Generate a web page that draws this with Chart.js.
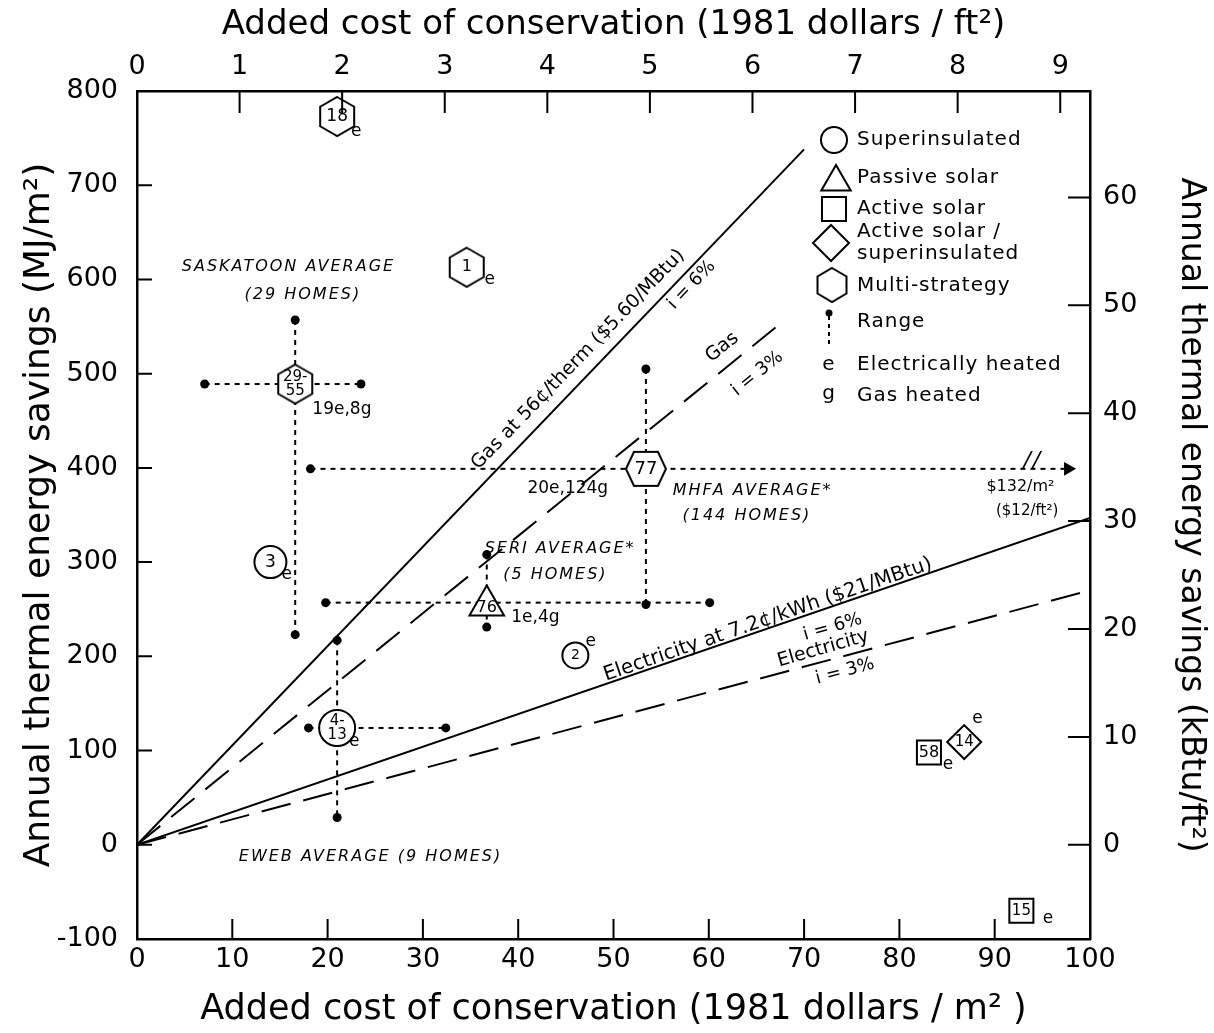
<!DOCTYPE html>
<html>
<head>
<meta charset="utf-8">
<script src="https://cdn.jsdelivr.net/npm/chart.js@4.4.0/dist/chart.umd.min.js"></script>
<style>
  body { margin: 0; background: #fff; }
  #wrap { width: 1214px; height: 1033px; }
</style>
</head>
<body>
<div id="wrap"><canvas id="myChart"></canvas></div>
<script>
const FT2_PER_M2 = 10.764;          // $/m2 -> $/ft2
const MJ_PER_KBTU = 11.45;          // kBtu/ft2 -> MJ/m2 (as drawn)

const bottomTicks = [0, 10, 20, 30, 40, 50, 60, 70, 80, 90, 100];
const leftTicks = [-100, 0, 100, 200, 300, 400, 500, 600, 700, 800];
const topTicks = [0, 1, 2, 3, 4, 5, 6, 7, 8, 9];
const rightTicks = [0, 10, 20, 30, 40, 50, 60];

// homes, by strategy ($/m2, MJ/m2)
const superIds = ['3', '4-\n13', '2'];
const superX = [14.0, 21.0, 46.0];
const superY = [300, 124, 201];

const passiveIds = ['76'];
const passiveX = [36.7];
const passiveY = [254];

const activeIds = ['58', '15'];
const activeX = [83.1, 92.8];
const activeY = [98, -70];

const activeSuperIds = ['14'];
const activeSuperX = [86.8];
const activeSuperY = [109];

const multiIds = ['18', '1', '29-\n55', '77'];
const multiX = [21.0, 34.6, 16.6, 53.4];
const multiY = [773, 613, 489, 399];

// break-even lines, end points from the origin
const gas6End = [70, 738];
const gas3End = [67, 549];
const elec6End = [100, 347];
const elec3End = [100, 270];

// ranges: [x1, y1, x2, y2]
const ranges = [
  [7.1, 489, 23.5, 489],
  [16.6, 557, 16.6, 223],
  [53.4, 505, 53.4, 255],
  [36.7, 308, 36.7, 231],
  [19.8, 257, 60.1, 257],
  [21.0, 217, 21.0, 29],
  [18.0, 124, 32.4, 124]
];
const mhfaRange = [18.2, 399, 97.7, 399];   // runs off to $132/m2

const pts = (xs, ys) => xs.map((x, i) => ({ x: x, y: ys[i] }));
const seg = (a, b) => [{ x: a[0], y: a[1] }, { x: b[0], y: b[1] }];

function makeHex(w, h, pointy) {
  const c = document.createElement('canvas');
  c.width = w + 4; c.height = h + 4;
  const g = c.getContext('2d');
  const cx = c.width / 2, cy = c.height / 2;
  const v = pointy
    ? [[0, -h / 2], [w / 2, -h / 4], [w / 2, h / 4], [0, h / 2], [-w / 2, h / 4], [-w / 2, -h / 4]]
    : [[-w / 2, 0], [-w * 0.3, -h / 2], [w * 0.3, -h / 2], [w / 2, 0], [w * 0.3, h / 2], [-w * 0.3, h / 2]];
  g.beginPath();
  v.forEach(p => g.lineTo(cx + p[0], cy + p[1]));
  g.closePath();
  g.fillStyle = '#fff'; g.fill();
  g.strokeStyle = '#000'; g.lineWidth = 2; g.stroke();
  return c;
}
const hexA = makeHex(34, 39, true);
const hexB = makeHex(40, 34, false);
const hexLegend = makeHex(29, 34, true);

const FONT = '"DejaVu Sans", sans-serif';

const marker = (label, data, style, radius, ids, labelSize) => ({
  label: label, data: data, ids: ids, labelSize: labelSize,
  pointStyle: style, pointRadius: radius, pointHoverRadius: radius,
  pointBackgroundColor: '#fff', pointBorderColor: '#000', pointBorderWidth: 2,
  showLine: false
});

const lineSet = (data, dash) => ({
  type: 'line', data: data, borderColor: '#000', borderWidth: 2,
  borderDash: dash, pointRadius: 0, fill: false, tension: 0
});

const rangeSet = (r) => ({
  type: 'line', data: seg([r[0], r[1]], [r[2], r[3]]),
  borderColor: '#000', borderWidth: 2, borderDash: [5, 5],
  pointRadius: 4.5, pointBackgroundColor: '#000', pointBorderWidth: 0, fill: false
});

const datasets = [
  marker('Superinsulated', pts(superX, superY), 'circle', [16, 18, 13], superIds, [17, 15, 14]),
  marker('Passive solar', pts(passiveX, passiveY), 'triangle', 20, passiveIds, [16]),
  marker('Active solar', pts(activeX, activeY), 'rect', 17, activeIds, [16, 15]),
  marker('Active solar / superinsulated', pts(activeSuperX, activeSuperY), 'rectRot', 17, activeSuperIds, [15]),
  marker('Multi-strategy', pts(multiX, multiY), [hexA, hexA, hexA, hexB], 18, multiIds, [17, 16, 15, 18]),
  lineSet(seg([0, 0], gas6End), []),
  lineSet(seg([0, 0], gas3End), [30, 14]),
  lineSet(seg([0, 0], elec6End), []),
  lineSet(seg([0, 0], elec3End), [30, 13]),
  ...ranges.map(rangeSet),
  Object.assign(rangeSet(mhfaRange), {
    pointStyle: ['circle', 'triangle'], pointRotation: [0, 90], pointRadius: [4.5, 8]
  })
];

// free text placed in data units
const notes = [
  { t: 'SASKATOON AVERAGE', x: 15.9, y: 613, it: true },
  { t: '(29 HOMES)', x: 17.4, y: 584, it: true },
  { t: 'MHFA AVERAGE*', x: 64.6, y: 376, it: true },
  { t: '(144 HOMES)', x: 64.0, y: 349, it: true },
  { t: 'SERI AVERAGE*', x: 44.4, y: 314, it: true },
  { t: '(5 HOMES)', x: 43.9, y: 287, it: true },
  { t: 'EWEB AVERAGE (9 HOMES)', x: 24.5, y: -13, it: true },
  { t: '19e,8g', x: 21.5, y: 462, s: 17 },
  { t: '20e,124g', x: 45.2, y: 378, s: 17 },
  { t: '1e,4g', x: 41.8, y: 241, s: 17 },
  { t: '$132/m²', x: 92.7, y: 380 },
  { t: '($12/ft²)', x: 93.4, y: 354, s: 15 },
  { t: '//', x: 94.0, y: 407, s: 22, it: true },
  { t: 'e', x: 23.0, y: 757, s: 17 },
  { t: 'e', x: 37.0, y: 600, s: 17 },
  { t: 'e', x: 15.7, y: 287, s: 17 },
  { t: 'e', x: 22.8, y: 110, s: 17 },
  { t: 'e', x: 47.6, y: 216, s: 17 },
  { t: 'e', x: 85.1, y: 85, s: 17 },
  { t: 'e', x: 88.2, y: 134, s: 17 },
  { t: 'e', x: 95.6, y: -78, s: 17 },
  { t: 'Gas at 56¢/therm ($5.60/MBtu)', x: 46.3, y: 515, r: -46, s: 19 },
  { t: 'i = 6%', x: 58.2, y: 594, r: -46, s: 18 },
  { t: 'Gas', x: 61.4, y: 528, r: -39, s: 19 },
  { t: 'i = 3%', x: 65.1, y: 500, r: -39, s: 18 },
  { t: 'Electricity at 7.2¢/kWh ($21/MBtu)', x: 66.2, y: 239, r: -19, s: 20 },
  { t: 'i = 6%', x: 73.0, y: 231, r: -16, s: 18 },
  { t: 'Electricity', x: 72.0, y: 208, r: -16, s: 19 },
  { t: 'i = 3%', x: 74.3, y: 184, r: -15, s: 18 }
];

const notePlugin = {
  id: 'notes',
  afterDatasetsDraw(chart) {
    const ctx = chart.ctx, sx = chart.scales.x, sy = chart.scales.y;
    ctx.save();
    ctx.fillStyle = '#000';
    ctx.textAlign = 'center';
    ctx.textBaseline = 'middle';
    notes.forEach(n => {
      const size = n.s || 16;
      ctx.font = (n.it ? 'italic ' : '') + size + 'px ' + FONT;
      ctx.letterSpacing = n.it ? '2px' : '0px';
      ctx.save();
      ctx.translate(sx.getPixelForValue(n.x), sy.getPixelForValue(n.y));
      if (n.r) ctx.rotate(n.r * Math.PI / 180);
      ctx.fillText(n.t, 0, 0);
      ctx.restore();
    });
    // ids inside the markers
    ctx.letterSpacing = '0px';
    chart.data.datasets.forEach((ds, i) => {
      if (!ds.ids) return;
      chart.getDatasetMeta(i).data.forEach((el, j) => {
        const lines = ds.ids[j].split('\n');
        ctx.font = ds.labelSize[j] + 'px ' + FONT;
        const dy = ds.pointStyle === 'triangle' ? 2 : 0;
        const lh = ds.labelSize[j] * 0.95;
        lines.forEach((l, k) => {
          ctx.fillText(l, el.x, el.y + dy + (k - (lines.length - 1) / 2) * lh);
        });
      });
    });
    ctx.restore();
  }
};

const tickPlugin = {
  id: 'innerTicks',
  afterDraw(chart) {
    const ctx = chart.ctx, a = chart.chartArea, s = chart.scales;
    ctx.save();
    ctx.strokeStyle = '#000';
    ctx.lineWidth = 2;
    ctx.beginPath();
    bottomTicks.forEach(v => { const p = s.x.getPixelForValue(v); ctx.moveTo(p, a.bottom); ctx.lineTo(p, a.bottom - 20); });
    topTicks.forEach(v => { const p = s.x2.getPixelForValue(v); ctx.moveTo(p, a.top); ctx.lineTo(p, a.top + 22); });
    leftTicks.forEach(v => { const p = s.y.getPixelForValue(v); ctx.moveTo(a.left, p); ctx.lineTo(a.left + 15, p); });
    rightTicks.forEach(v => { const p = s.y2.getPixelForValue(v); ctx.moveTo(a.right, p); ctx.lineTo(a.right - 22, p); });
    ctx.stroke();
    ctx.restore();
  }
};

// legend block in the upper right of the plot
const legendPlugin = {
  id: 'keyBox',
  afterDraw(chart) {
    const ctx = chart.ctx, H = Chart.helpers;
    ctx.save();
    ctx.fillStyle = '#fff';
    ctx.strokeStyle = '#000';
    ctx.lineWidth = 2;
    H.drawPoint(ctx, { pointStyle: 'circle', radius: 13, borderWidth: 2 }, 834, 140);
    H.drawPoint(ctx, { pointStyle: 'triangle', radius: 17, borderWidth: 2 }, 836, 182);
    H.drawPoint(ctx, { pointStyle: 'rect', radius: 17, borderWidth: 2 }, 834, 209);
    H.drawPoint(ctx, { pointStyle: 'rectRot', radius: 18, borderWidth: 2 }, 831, 243);
    ctx.drawImage(hexLegend, 832 - hexLegend.width / 2, 285 - hexLegend.height / 2);
    ctx.fillStyle = '#000';
    ctx.beginPath(); ctx.arc(829, 313, 3.5, 0, Math.PI * 2); ctx.fill();
    ctx.setLineDash([4, 4]);
    ctx.beginPath(); ctx.moveTo(829, 316); ctx.lineTo(829, 346); ctx.stroke();
    ctx.setLineDash([]);
    ctx.font = '20px ' + FONT;
    ctx.letterSpacing = '1px';
    ctx.textBaseline = 'middle';
    ctx.textAlign = 'center';
    ctx.fillText('e', 829, 365);
    ctx.fillText('g', 829, 394);
    ctx.textAlign = 'left';
    [['Superinsulated', 140], ['Passive solar', 178], ['Active solar', 209],
     ['Active solar /', 232], ['superinsulated', 254], ['Multi-strategy', 286],
     ['Range', 322], ['Electrically heated', 365], ['Gas heated', 396]]
      .forEach(r => ctx.fillText(r[0], 857, r[1]));
    ctx.restore();
  }
};

const axisBase = (title, pad, titleSize) => ({
  type: 'linear',
  grid: { display: false, drawTicks: false },
  border: { display: true, color: '#000', width: 2.5 },
  ticks: { color: '#000', font: { family: FONT, size: 27 }, padding: pad, maxRotation: 0, autoSkip: false },
  title: { display: true, text: title, color: '#000', font: { family: FONT, size: titleSize } }
});

const xAxis = axisBase('Added cost of conservation (1981 dollars / m² )', 5, 35);
Object.assign(xAxis, { position: 'bottom', min: 0, max: 100,
  afterBuildTicks: sc => { sc.ticks = bottomTicks.map(v => ({ value: v })); },
  afterFit: sc => { sc.height = 94; } });
xAxis.title.padding = { top: 0, bottom: 2 };

const x2Axis = axisBase('Added cost of conservation (1981 dollars / ft²)', 8, 34);
Object.assign(x2Axis, { position: 'top', min: 0, max: 100 / FT2_PER_M2,
  afterBuildTicks: sc => { sc.ticks = topTicks.map(v => ({ value: v })); },
  afterFit: sc => { sc.height = 91; } });
x2Axis.title.padding = { top: 5, bottom: 0 };

const yAxis = axisBase('Annual thermal energy savings (MJ/m²)', 19, 36);
Object.assign(yAxis, { position: 'left', min: -100, max: 800,
  afterBuildTicks: sc => { sc.ticks = leftTicks.map(v => ({ value: v })); },
  afterFit: sc => { sc.width = 137; } });
yAxis.title.padding = { top: 18, bottom: 0 };

const y2Axis = axisBase('Annual thermal energy savings (kBtu/ft²)', 13, 33);
Object.assign(y2Axis, { position: 'right', min: -100 / MJ_PER_KBTU, max: 800 / MJ_PER_KBTU,
  afterBuildTicks: sc => { sc.ticks = rightTicks.map(v => ({ value: v })); },
  afterFit: sc => { sc.width = 124; } });
y2Axis.title.padding = { top: 4, bottom: 0 };

new Chart(document.getElementById('myChart'), {
  type: 'scatter',
  data: { datasets: datasets },
  options: {
    responsive: true,
    maintainAspectRatio: false,
    animation: false,
    layout: { padding: 0 },
    plugins: { legend: { display: false }, tooltip: { enabled: false } },
    scales: { x: xAxis, x2: x2Axis, y: yAxis, y2: y2Axis }
  },
  plugins: [notePlugin, tickPlugin, legendPlugin]
});
</script>
</body>
</html>
